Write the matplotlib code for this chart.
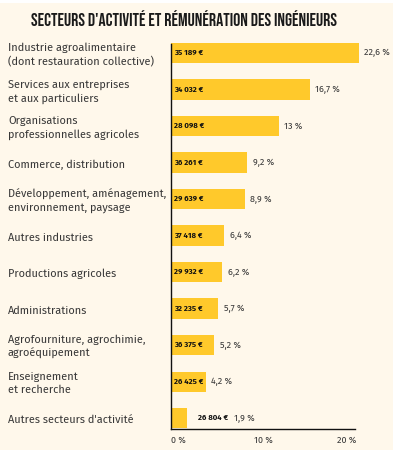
import matplotlib
matplotlib.use("Agg")
import matplotlib.pyplot as plt
from matplotlib.patches import Rectangle

categories = [
    "Industrie agroalimentaire\n(dont restauration collective)",
    "Services aux entreprises\net aux particuliers",
    "Organisations\nprofessionnelles agricoles",
    "Commerce, distribution",
    "Développement, aménagement,\nenvironnement, paysage",
    "Autres industries",
    "Productions agricoles",
    "Administrations",
    "Agrofourniture, agrochimie,\nagroéquipement",
    "Enseignement\net recherche",
    "Autres secteurs d'activité",
]
shares = [22.6, 16.7, 13.0, 9.2, 8.9, 6.4, 6.2, 5.7, 5.2, 4.2, 1.9]
share_labels = ["22,6 %", "16,7 %", "13 %", "9,2 %", "8,9 %", "6,4 %", "6,2 %",
                "5,7 %", "5,2 %", "4,2 %", "1,9 %"]
salaries = ["35 189 €", "34 032 €", "28 098 €", "36 261 €", "29 639 €", "37 418 €",
            "29 932 €", "32 235 €", "36 375 €", "26 425 €", "26 804 €"]
xticks = [0, 10, 20]
xtick_labels = ["0 %", "10 %", "20 %"]
title = "SECTEURS D'ACTIVITÉ ET RÉMUNÉRATION DES INGÉNIEURS"

W, H = 396, 458
BG = "#FFF8EB"
BAR = "#FFC92B"
TXT = "#383838"
body_font = ["Fira Sans", "DejaVu Sans"]

fig = plt.figure(figsize=(W / 100, H / 100), dpi=100)
fig.patch.set_facecolor("white")
fig.patches.append(Rectangle((0, 1 - 450 / H), 393 / W, (450 - 3) / H,
                             transform=fig.transFigure,
                             facecolor=BG, edgecolor="none", zorder=-10))

ax = fig.add_axes([171 / W, 1 - 429 / H, 207.5 / W, 389 / H])
ax.set_facecolor("none")
n = len(categories)
ypos = list(range(n))
ax.barh(ypos, shares, height=0.55, color=BAR, edgecolor="none", zorder=2)
ax.set_xlim(0, 25)
ax.set_ylim(10.3, -0.356)

for s in ["top", "right"]:
    ax.spines[s].set_visible(False)
ax.spines["bottom"].set_bounds(0, 22.2)
ax.spines["left"].set_bounds(10.3, -0.26)
for s in ["bottom", "left"]:
    ax.spines[s].set_linewidth(1.0)
    ax.spines[s].set_color("#111111")

ax.set_yticks([])
ax.set_xticks(xticks)
ax.set_xticklabels(xtick_labels, fontsize=6.5, color=TXT, family=body_font, ha="left")
ax.tick_params(axis="x", length=0, pad=5)

for i, (v, pl, sal) in enumerate(zip(shares, share_labels, salaries)):
    if v < 3:
        ax.annotate(sal, (v, i), xytext=(8, 0), textcoords="offset points",
                    ha="left", va="center", fontsize=5.6, fontweight="bold",
                    color="#111111", family=body_font)
        ax.annotate(pl, (v, i), xytext=(34, 0), textcoords="offset points",
                    ha="left", va="center", fontsize=6.5, color=TXT, family=body_font)
    else:
        ax.annotate(sal, (0, i), xytext=(2.5, 0), textcoords="offset points",
                    ha="left", va="center", fontsize=5.6, fontweight="bold",
                    color="#111111", family=body_font)
        ax.annotate(pl, (v, i), xytext=(4, 0), textcoords="offset points",
                    ha="left", va="center", fontsize=6.5, color=TXT, family=body_font)

for i, c in enumerate(categories):
    ax.annotate(c, (0, i), xycoords=("figure pixels", "data"),
                xytext=(8 * 0.72, -1.4), textcoords="offset points",
                ha="left", va="center", fontsize=7.9, color=TXT, family=body_font,
                linespacing=1.35)

fig.text(184 / W, 1 - 18 / H, title, ha="center", va="center", fontsize=12.8,
         family=["Bebas Neue", "DejaVu Sans"], color="#1a1a1a")

fig.savefig("out.png", dpi=100, facecolor=fig.get_facecolor())
